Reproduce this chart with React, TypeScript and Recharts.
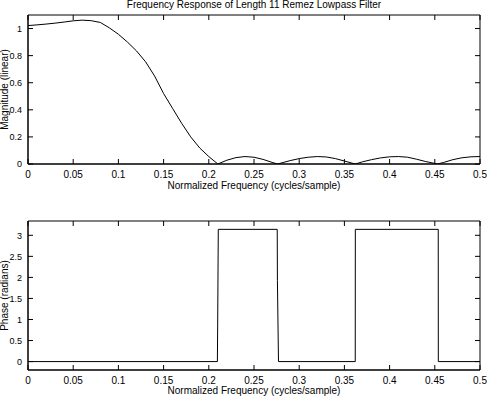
import * as React from "react"
import { LineChart, Line, XAxis, YAxis, Label, ReferenceArea, ReferenceLine } from "recharts"

// magnitude response
const magFreq = [
  0, 0.01, 0.02, 0.03, 0.04, 0.05, 0.06, 0.07, 0.08, 0.09, 0.1, 0.11, 0.12, 0.13, 0.14,
  0.15, 0.16, 0.17, 0.18, 0.19, 0.2, 0.21, 0.22, 0.23, 0.24, 0.25, 0.26, 0.27, 0.276, 0.29, 0.3,
  0.31, 0.32, 0.33, 0.34, 0.35, 0.362, 0.37, 0.38, 0.39, 0.4, 0.41, 0.42, 0.43, 0.44, 0.453, 0.46,
  0.47, 0.48, 0.49, 0.5,
]
const magValue = [
  1.022, 1.027, 1.033, 1.04, 1.048, 1.057, 1.062, 1.058, 1.045, 1.005, 0.958, 0.9, 0.835, 0.755, 0.65,
  0.52, 0.41, 0.3, 0.2, 0.118, 0.055, 0, 0.028, 0.047, 0.055, 0.05, 0.034, 0.012, 0, 0.025, 0.04,
  0.05, 0.055, 0.052, 0.04, 0.022, 0, 0.016, 0.032, 0.045, 0.053, 0.055, 0.05, 0.035, 0.018, 0, 0.012,
  0.032, 0.046, 0.053, 0.055,
]

// phase response (steps of pi at the stopband zeros)
const phaseFreq = [0, 0.2095, 0.2098, 0.2105, 0.2757, 0.2759, 0.2771, 0.362, 0.3621, 0.4538, 0.4539, 0.5]
const phaseValue = [0, 0, 0.82, 3.1416, 3.1416, 1.93, 0, 0, 3.1416, 3.1416, 0, 0]

const freqTicks = [0, 0.05, 0.1, 0.15, 0.2, 0.25, 0.3, 0.35, 0.4, 0.45, 0.5]
const magTicks = [0, 0.2, 0.4, 0.6, 0.8, 1]
const phaseTicks = [0, 0.5, 1, 1.5, 2, 2.5, 3]

const magData = magFreq.map((f, i) => ({ f, v: magValue[i] }))
const phaseData = phaseFreq.map((f, i) => ({ f, v: phaseValue[i] }))

const font = { fontFamily: "'Liberation Sans', Arial, sans-serif", fontSize: 10, fill: "#000" }
const yFont = { ...font, fontSize: 9 }

const CHART_W = 487
const LEFT = 28
const RIGHT = 7
const PLOT_H = 149
const TICK = 5
const xDomain: [number, number] = [0, 0.5]

type PanelProps = {
  data: { f: number; v: number }[]
  yDomain: [number, number]
  yTicks: number[]
  yLabel: string
  title?: string
  height: number
  top: number
  xAxisHeight: number
  xLabelOffset: number
}

function Panel({ data, yDomain, yTicks, yLabel, title, height, top, xAxisHeight, xLabelOffset }: PanelProps) {
  // inward tick length on the top/right box edges, in data units
  const dy = ((yDomain[1] - yDomain[0]) * TICK) / PLOT_H
  const dx = ((xDomain[1] - xDomain[0]) * TICK) / (CHART_W - LEFT - RIGHT)
  return (
    <LineChart width={CHART_W} height={height} data={data} margin={{ top, right: RIGHT, left: 0, bottom: 0 }}>
      <XAxis
        dataKey="f"
        type="number"
        domain={xDomain}
        ticks={freqTicks}
        interval={0}
        allowDataOverflow
        height={xAxisHeight}
        tickSize={-TICK}
        tickMargin={12}
        stroke="#000"
        tick={font}
      >
        <Label value="Normalized Frequency (cycles/sample)" position="insideBottom" offset={xLabelOffset} style={font} />
      </XAxis>
      <YAxis
        type="number"
        domain={yDomain}
        ticks={yTicks}
        interval={0}
        allowDataOverflow
        width={LEFT}
        tickSize={-TICK}
        tickMargin={11}
        stroke="#000"
        tick={yFont}
      >
        <Label value={yLabel} angle={-90} position="insideLeft" offset={4} style={{ ...font, textAnchor: "middle" }} />
      </YAxis>
      <ReferenceArea
        x1={xDomain[0]}
        x2={xDomain[1]}
        y1={yDomain[0]}
        y2={yDomain[1]}
        fill="none"
        stroke="#000"
        strokeWidth={1}
        ifOverflow="visible"
      >
        {title && <Label value={title} position="top" offset={7} style={font} />}
      </ReferenceArea>
      {freqTicks.map((t) => (
        <ReferenceLine
          key={"tx" + t}
          segment={[
            { x: t, y: yDomain[1] },
            { x: t, y: yDomain[1] - dy },
          ]}
          stroke="#000"
          ifOverflow="visible"
        />
      ))}
      {yTicks.map((t) => (
        <ReferenceLine
          key={"ty" + t}
          segment={[
            { x: xDomain[1] - dx, y: t },
            { x: xDomain[1], y: t },
          ]}
          stroke="#000"
          ifOverflow="visible"
        />
      ))}
      <Line type="linear" dataKey="v" stroke="#000" strokeWidth={1} dot={false} isAnimationActive={false} />
    </LineChart>
  )
}

export default function App() {
  return (
    <div style={{ position: "absolute", left: 0, top: 0, width: 487, height: 398, background: "#fff" }}>
      <Panel
        data={magData}
        yDomain={[0, 1.1]}
        yTicks={magTicks}
        yLabel="Magnitude (linear)"
        title="Frequency Response of Length 11 Remez Lowpass Filter"
        height={200}
        top={15}
        xAxisHeight={36}
        xLabelOffset={11}
      />
      <Panel
        data={phaseData}
        yDomain={[-0.2, 3.34]}
        yTicks={phaseTicks}
        yLabel="Phase (radians)"
        height={198}
        top={21}
        xAxisHeight={28}
        xLabelOffset={4}
      />
    </div>
  )
}
